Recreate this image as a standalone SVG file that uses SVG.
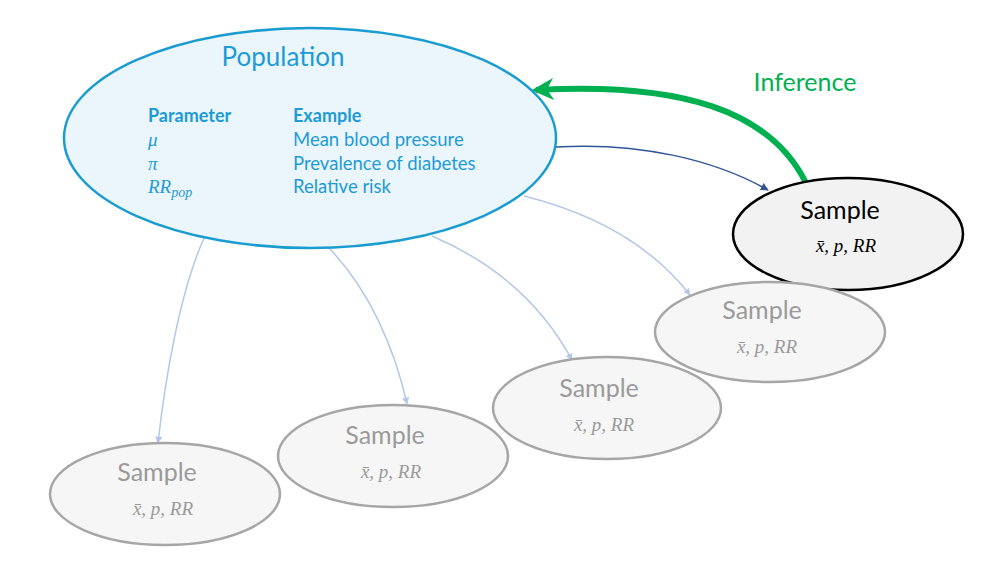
<svg xmlns="http://www.w3.org/2000/svg" width="1001" height="572" viewBox="0 0 1001 572">
<defs>
<style>
.sans{font-family:Lato,"Open Sans","Liberation Sans",sans-serif}
.math{font-family:"Liberation Serif","DejaVu Serif",serif;font-style:italic}
.pop{fill:#1e9bd7}
.gray{fill:#9a9a9a}
.gs{fill:#f6f6f6;stroke:#a6a6a6;stroke-width:2.5}
.lc{fill:none;stroke:#b4c7e7;stroke-width:1.5}
</style>
<marker id="al" viewBox="0 0 10 10" refX="9" refY="5" markerWidth="7" markerHeight="7" orient="auto" markerUnits="userSpaceOnUse">
<path d="M0,0 L10,5 L0,10 z" fill="#b4c7e7"/>
</marker>
<marker id="ad" viewBox="0 0 10 10" refX="9" refY="5" markerWidth="8" markerHeight="8" orient="auto" markerUnits="userSpaceOnUse">
<path d="M0,0 L10,5 L0,10 z" fill="#2f5597"/>
</marker>
<marker id="ag" viewBox="0 0 10 10" refX="8" refY="5" markerWidth="22" markerHeight="22" orient="auto" markerUnits="userSpaceOnUse">
<path d="M0,0 L10,5 L0,10 L3,5 z" fill="#00b050"/>
</marker>
</defs>
<rect width="1001" height="572" fill="#fff"/>
<g id="connectors">
<path class="lc" d="M205,236 C180,290 165,380 158,443" marker-end="url(#al)"/>
<path class="lc" d="M328,247 C370,290 395,350 407,404" marker-end="url(#al)"/>
<path class="lc" d="M432,236 C500,265 545,310 572,360" marker-end="url(#al)"/>
<path class="lc" d="M524,196 C600,215 655,250 690,295" marker-end="url(#al)"/>
<path d="M556,147 C640,142 715,160 768,190" fill="none" stroke="#2f5597" stroke-width="1.5" marker-end="url(#ad)"/>
<path d="M806,183 C770,110 680,82 536,90" fill="none" stroke="#00b050" stroke-width="6" marker-end="url(#ag)"/>
<text class="sans" x="805" y="91" font-size="25" fill="#00b050" text-anchor="middle">Inference</text>
</g>
<g id="population">
<ellipse cx="310" cy="138" rx="246" ry="110" fill="#eaf6fb" stroke="#1b9cd0" stroke-width="2.5"/>
<text class="sans pop" x="283" y="66" font-size="26" text-anchor="middle">Population</text>
<text class="sans pop" x="148" y="122" font-size="18" font-weight="bold">Parameter</text>
<text class="sans pop" x="293" y="122" font-size="18" font-weight="bold">Example</text>
<text class="math pop" x="148" y="146" font-size="19">μ</text>
<text class="math pop" x="148" y="170" font-size="19">π</text>
<text class="math pop" x="148" y="193" font-size="19">RR<tspan font-size="14" dy="4">pop</tspan></text>
<text class="sans pop" x="293" y="146" font-size="18.5">Mean blood pressure</text>
<text class="sans pop" x="293" y="170" font-size="18.5">Prevalence of diabetes</text>
<text class="sans pop" x="293" y="193" font-size="18.5">Relative risk</text>
</g>
<g id="sample-main">
<ellipse cx="848" cy="234" rx="115" ry="56" fill="#f2f2f2" stroke="#000" stroke-width="2.5"/>
<text class="sans" x="840" y="219" font-size="25" fill="#000" text-anchor="middle">Sample</text>
<text class="math" x="846" y="252" font-size="19" fill="#000" text-anchor="middle">x̄, p, RR</text>
</g>
<g id="sample-1">
<ellipse class="gs" cx="770" cy="332" rx="115" ry="50"/>
<text class="sans gray" x="762" y="319" font-size="25" text-anchor="middle">Sample</text>
<text class="math gray" x="767" y="353" font-size="19" text-anchor="middle">x̄, p, RR</text>
</g>
<g id="sample-2">
<ellipse class="gs" cx="607" cy="408" rx="114" ry="51"/>
<text class="sans gray" x="599" y="397" font-size="25" text-anchor="middle">Sample</text>
<text class="math gray" x="604" y="431" font-size="19" text-anchor="middle">x̄, p, RR</text>
</g>
<g id="sample-3">
<ellipse class="gs" cx="393" cy="456" rx="115" ry="51"/>
<text class="sans gray" x="385" y="444" font-size="25" text-anchor="middle">Sample</text>
<text class="math gray" x="391" y="478" font-size="19" text-anchor="middle">x̄, p, RR</text>
</g>
<g id="sample-4">
<ellipse class="gs" cx="165" cy="494" rx="115" ry="51"/>
<text class="sans gray" x="157" y="481" font-size="25" text-anchor="middle">Sample</text>
<text class="math gray" x="163" y="515" font-size="19" text-anchor="middle">x̄, p, RR</text>
</g>
</svg>
